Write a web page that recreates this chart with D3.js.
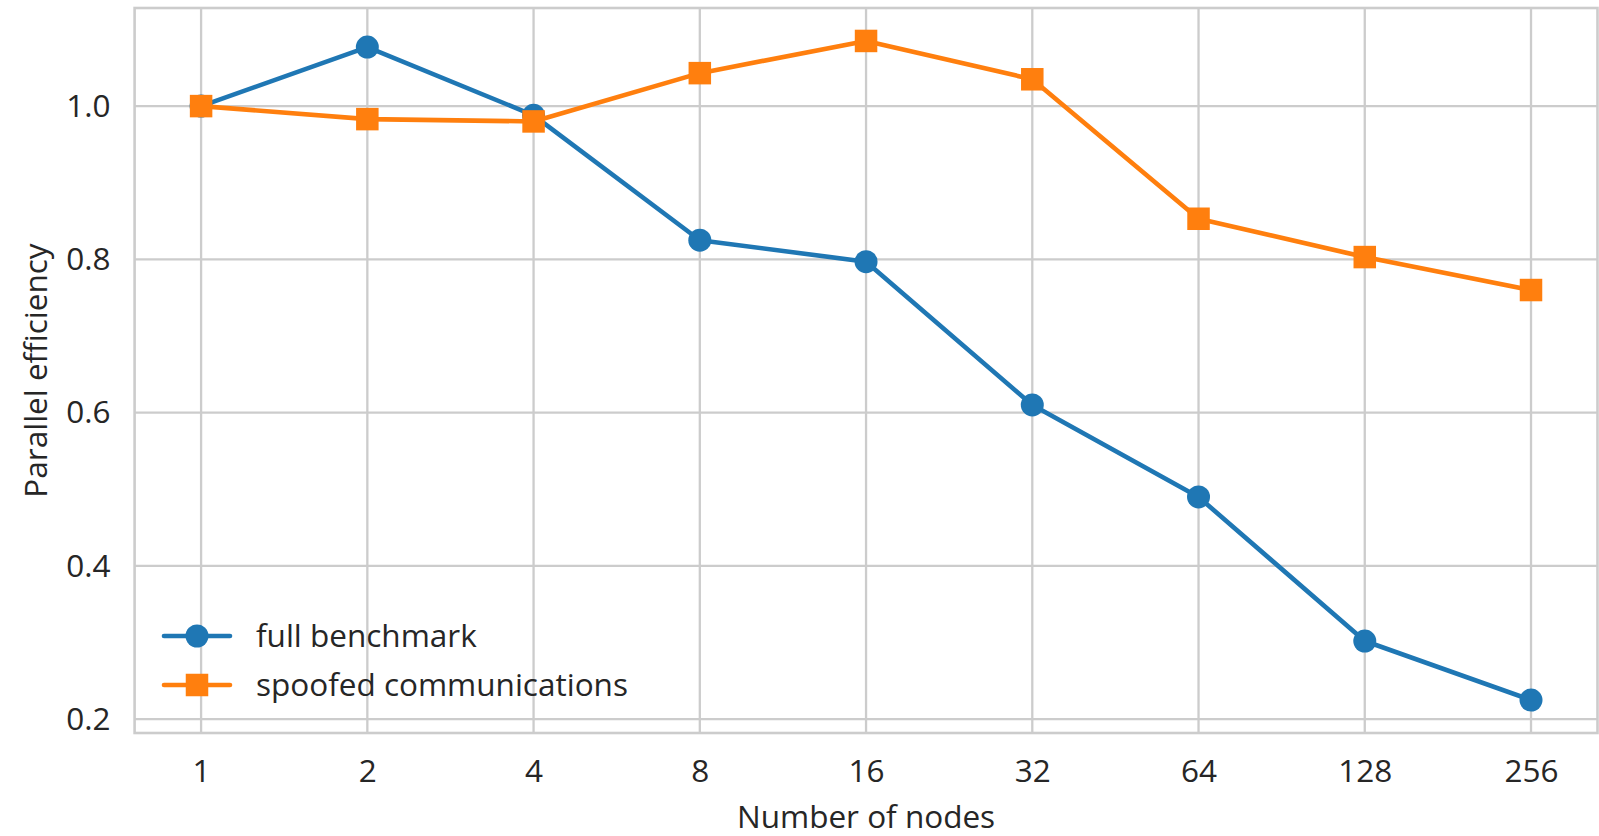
<!DOCTYPE html>
<html>
<head>
<meta charset="utf-8">
<script src="https://cdn.jsdelivr.net/npm/d3@7"></script>
<style>
  html, body { margin: 0; padding: 0; background: #fff; }
  svg { display: block; }
  text { font-family: "Open Sans", "Noto Sans", sans-serif; fill: #262626; }
</style>
</head>
<body>
<svg id="chart" width="1599" height="836"></svg>
<script>
// Node counts on the horizontal (log2) axis
const nodes = [1, 2, 4, 8, 16, 32, 64, 128, 256];
// Parallel efficiency per run
const fullBenchmark = [1.0, 1.077, 0.988, 0.825, 0.797, 0.610, 0.490, 0.302, 0.225];
const spoofedComms = [1.0, 0.983, 0.980, 1.043, 1.085, 1.035, 0.853, 0.803, 0.760];
// Tick labels
const xTickLabels = ["1", "2", "4", "8", "16", "32", "64", "128", "256"];
const yTicks = [0.2, 0.4, 0.6, 0.8, 1.0];
const seriesNames = ["full benchmark", "spoofed communications"];
const seriesColors = ["#1f77b4", "#ff7f0e"];

const FONT = "31.5px";
const plot = { left: 134.6, right: 1597.5, top: 8, bottom: 733 };

const svg = d3.select("#chart");

// Log2 x scale with 5% padding in log space
const lx0 = Math.log2(d3.min(nodes)), lx1 = Math.log2(d3.max(nodes));
const lpad = (lx1 - lx0) * 0.05;
const x = d3.scaleLog().base(2)
  .domain([Math.pow(2, lx0 - lpad), Math.pow(2, lx1 + lpad)])
  .range([plot.left, plot.right]);

// Linear y scale with 5% padding around all values
const allVals = fullBenchmark.concat(spoofedComms);
const vmin = d3.min(allVals), vmax = d3.max(allVals);
const vpad = (vmax - vmin) * 0.05;
const y = d3.scaleLinear()
  .domain([vmin - vpad, vmax + vpad])
  .range([plot.bottom, plot.top]);

// Grid lines
const grid = svg.append("g").attr("stroke", "#cccccc").attr("stroke-width", 2.3);
grid.selectAll("line.gx").data(nodes).join("line")
  .attr("x1", d => x(d)).attr("x2", d => x(d))
  .attr("y1", plot.top).attr("y2", plot.bottom);
grid.selectAll("line.gy").data(yTicks).join("line")
  .attr("x1", plot.left).attr("x2", plot.right)
  .attr("y1", d => y(d)).attr("y2", d => y(d));

// Axes frame
svg.append("rect")
  .attr("x", plot.left).attr("y", plot.top)
  .attr("width", plot.right - plot.left).attr("height", plot.bottom - plot.top)
  .attr("fill", "none").attr("stroke", "#cccccc").attr("stroke-width", 2.6);

// X axis tick labels
const xAxis = d3.axisBottom(x).tickValues(nodes)
  .tickFormat((d, i) => xTickLabels[i]).tickSize(0).tickPadding(27);
const gx = svg.append("g").attr("transform", `translate(0,${plot.bottom})`).call(xAxis);
gx.select(".domain").remove();
gx.selectAll("text").style("font-size", FONT).attr("fill", "#262626")
  .style("font-family", "'Open Sans', sans-serif");

// Y axis tick labels
const yAxis = d3.axisLeft(y).tickValues(yTicks)
  .tickFormat(d3.format(".1f")).tickSize(0).tickPadding(24);
const gy = svg.append("g").attr("transform", `translate(${plot.left},0)`).call(yAxis);
gy.select(".domain").remove();
gy.selectAll("text").style("font-size", FONT).attr("fill", "#262626")
  .style("font-family", "'Open Sans', sans-serif");

// Axis titles
svg.append("text")
  .attr("x", (plot.left + plot.right) / 2).attr("y", 828)
  .attr("text-anchor", "middle").style("font-size", FONT)
  .text("Number of nodes");
svg.append("text")
  .attr("transform", `translate(47,${(plot.top + plot.bottom) / 2}) rotate(-90)`)
  .attr("text-anchor", "middle").style("font-size", FONT)
  .text("Parallel efficiency");

// Series lines and markers
const series = [fullBenchmark, spoofedComms];
const line = d3.line().x((d, i) => x(nodes[i])).y(d => y(d));
const markerR = 11.5, sq = 22.5, lw = 4.6;

series.forEach((vals, s) => {
  const g = svg.append("g");
  g.append("path").datum(vals)
    .attr("d", line).attr("fill", "none")
    .attr("stroke", seriesColors[s]).attr("stroke-width", lw)
    .attr("stroke-linejoin", "round").attr("stroke-linecap", "round");
  if (s === 0) {
    g.selectAll("circle").data(vals).join("circle")
      .attr("cx", (d, i) => x(nodes[i])).attr("cy", d => y(d))
      .attr("r", markerR).attr("fill", seriesColors[s]);
  } else {
    g.selectAll("rect").data(vals).join("rect")
      .attr("x", (d, i) => x(nodes[i]) - sq / 2).attr("y", d => y(d) - sq / 2)
      .attr("width", sq).attr("height", sq).attr("fill", seriesColors[s]);
  }
});

// Legend
const legend = svg.append("g");
const legY = [636, 685];
seriesNames.forEach((name, s) => {
  const gy0 = legY[s];
  legend.append("line")
    .attr("x1", 164).attr("x2", 230).attr("y1", gy0).attr("y2", gy0)
    .attr("stroke", seriesColors[s]).attr("stroke-width", lw).attr("stroke-linecap", "round");
  if (s === 0) {
    legend.append("circle").attr("cx", 197).attr("cy", gy0).attr("r", markerR)
      .attr("fill", seriesColors[s]);
  } else {
    legend.append("rect").attr("x", 197 - sq / 2).attr("y", gy0 - sq / 2)
      .attr("width", sq).attr("height", sq).attr("fill", seriesColors[s]);
  }
  legend.append("text").attr("x", 256).attr("y", gy0).attr("dy", "0.35em")
    .style("font-size", FONT).text(name);
});
</script>
</body>
</html>
